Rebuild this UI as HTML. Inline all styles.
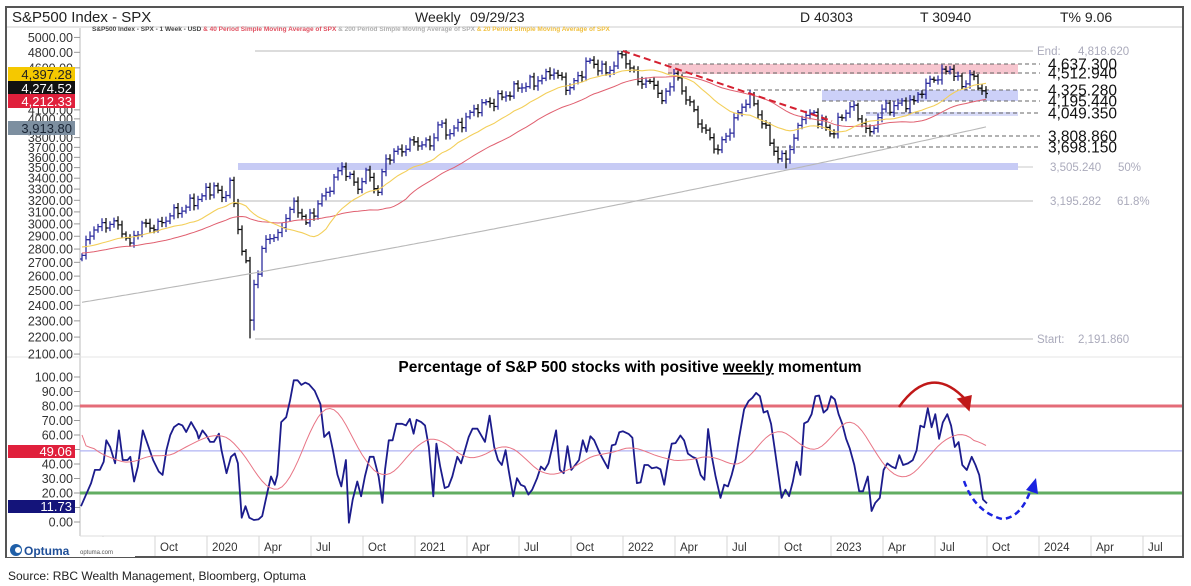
<!DOCTYPE html>
<html><head><meta charset="utf-8">
<style>
html,body{margin:0;padding:0;background:#fff;}
svg{display:block;font-family:"Liberation Sans",Arial,sans-serif;}
</style></head>
<body>
<svg id="c" width="1191" height="586" viewBox="0 0 1191 586" xmlns="http://www.w3.org/2000/svg"></svg>
<script>
(function(){
var W=[];function a(s){W.push(s);}
function Y(v){return 51+365*(8.480-Math.log(v));}
function YM(v){return 522-1.45*v;}
var start=Date.UTC(2019,4,31);
function wi(s){return Math.round((Date.parse(s+"T00:00:00Z")-start)/604800000);}
function X(i){return 82+4*i;}
var N=227;
a('<rect x="6" y="7" width="1177" height="550" fill="#fff" stroke="#555" stroke-width="2"/>');
a('<line x1="7" y1="27" x2="1182" y2="27" stroke="#ccc"/>');
a('<text x="12" y="22" font-size="15" fill="#222">S&amp;P500 Index - SPX</text>');
a('<text x="415" y="22" font-size="14" fill="#222">Weekly</text>');
a('<text x="470" y="22" font-size="14" fill="#222">09/29/23</text>');
a('<text x="800" y="22" font-size="14" fill="#222">D 40303</text>');
a('<text x="920" y="22" font-size="14" fill="#222">T 30940</text>');
a('<text x="1060" y="22" font-size="14" fill="#222">T% 9.06</text>');
a('<text x="92" y="31" font-size="6.5" font-weight="bold"><tspan fill="#444">S&amp;P500 Index - SPX - 1 Week - USD</tspan><tspan fill="#e05060"> &amp; 40 Period Simple Moving Average of SPX</tspan><tspan fill="#b0b0b0"> &amp; 200 Period Simple Moving Average of SPX</tspan><tspan fill="#f0c040"> &amp; 20 Period Simple Moving Average of SPX</tspan></text>');
a('<line x1="80" y1="28" x2="80" y2="536" stroke="#bbb"/>');
a('<line x1="7" y1="357" x2="1182" y2="357" stroke="#e4e4e4"/>');
var labs=[5200,5000,4800,4600,4100,4000,3800,3700,3600,3500,3400,3300,3200,3100,3000,2900,2800,2700,2600,2500,2400,2300,2200,2100];
labs.forEach(function(v){var y=Y(v);if(y<24)return;a('<text x="73" y="'+(y+4.5)+'" font-size="12.5" text-anchor="end" fill="#333">'+v+'.00</text><line x1="74" y1="'+y+'" x2="80" y2="'+y+'" stroke="#999"/>');});
a('<rect x="668" y="64" width="350" height="10" fill="#f7c6cf"/>');
a('<rect x="822" y="90" width="196" height="11" fill="#ccd0f8"/>');
a('<rect x="866" y="112" width="152" height="4" fill="#d8dbf8"/>');
a('<rect x="238" y="163" width="780" height="7" fill="#c7cbf5"/>');
a('<line x1="255" y1="51" x2="1033" y2="51" stroke="#c8c8c8" stroke-width="1.2"/>');
a('<line x1="238" y1="201" x2="1033" y2="201" stroke="#c8c8c8" stroke-width="1.2"/>');
a('<line x1="255" y1="339" x2="1033" y2="339" stroke="#c8c8c8" stroke-width="1.2"/>');
a('<line x1="1018" y1="167" x2="1033" y2="167" stroke="#c8c8c8"/>');
var dl=[[668,64],[668,73],[747,90],[822,101],[866,113],[848,136],[775,147]];
dl.forEach(function(d){a('<line x1="'+d[0]+'" y1="'+d[1]+'" x2="1040" y2="'+d[1]+'" stroke="#666" stroke-dasharray="4,3"/>');});
var big=[["4,637.300",64],["4,512.940",73],["4,325.280",90],["4,195.440",101],["4,049.350",113],["3,808.860",136],["3,698.150",147]];
big.forEach(function(b){a('<text x="1048" y="'+(b[1]+5.5)+'" font-size="15.5" fill="#111">'+b[0]+'</text>');});
a('<text x="1037" y="55" font-size="11.5" fill="#aab"><tspan>End:</tspan><tspan x="1078">4,818.620</tspan></text>');
a('<text x="1050" y="171" font-size="11.5" fill="#aab">3,505.240<tspan x="1118">50%</tspan></text>');
a('<text x="1050" y="205" font-size="11.5" fill="#aab">3,195.282<tspan x="1117">61.8%</tspan></text>');
a('<text x="1037" y="343" font-size="11.5" fill="#aab">Start:<tspan x="1078">2,191.860</tspan></text>');
var kp=[["2019-05-31",2752],["2019-06-07",2873],["2019-06-21",2950],["2019-07-26",3025],["2019-08-09",2918],["2019-08-23",2847],["2019-09-13",3007],["2019-10-04",2952],["2019-11-01",3066],["2019-11-29",3141],["2019-12-27",3240],["2020-01-17",3330],["2020-01-31",3225],["2020-02-14",3380],["2020-02-28",2954],["2020-03-13",2711],["2020-03-20",2305],["2020-03-27",2541],["2020-04-17",2875],["2020-05-08",2930],["2020-06-05",3193],["2020-06-26",3009],["2020-07-31",3271],["2020-08-28",3508],["2020-09-25",3298],["2020-10-09",3477],["2020-10-30",3270],["2020-11-13",3585],["2020-12-31",3756],["2021-01-29",3714],["2021-02-12",3934],["2021-03-05",3842],["2021-04-30",4181],["2021-05-14",4173],["2021-07-02",4352],["2021-08-27",4509],["2021-09-03",4535],["2021-10-01",4357],["2021-11-05",4697],["2021-12-03",4538],["2021-12-31",4766],["2022-01-28",4431],["2022-02-25",4385],["2022-03-11",4204],["2022-03-31",4530],["2022-05-20",3901],["2022-06-17",3675],["2022-07-29",4130],["2022-08-12",4280],["2022-09-30",3586],["2022-10-14",3583],["2022-11-11",3993],["2022-12-02",4071],["2022-12-30",3840],["2023-02-03",4136],["2023-03-10",3862],["2023-03-31",4109],["2023-05-26",4205],["2023-06-16",4410],["2023-07-28",4582],["2023-08-18",4370],["2023-09-01",4515],["2023-09-22",4320],["2023-09-29",4288]];
var K=kp.map(function(k){return [wi(k[0]),Math.log(k[1])];});
var C=[];
for(var i=0;i<N;i++){var j=0;while(j<K.length-2&&K[j+1][0]<i)j++;var p=K[j],q=K[j+1];var t=q[0]==p[0]?0:(i-p[0])/(q[0]-p[0]);t=Math.max(0,Math.min(1,t));var lv=p[1]+(q[1]-p[1])*t;var isK=K.some(function(k){return k[0]==i;});if(!isK)lv+=0.011*Math.sin(i*1.7)+0.007*Math.sin(i*3.1);C.push(Math.exp(lv));}
var crash=wi("2020-03-20");
for(var i=0;i<N;i++){var o=i?C[i-1]:C[0]*0.99,c=C[i];var r=0.006+0.007*Math.abs(Math.sin(i*2.3));var h=Math.max(o,c)*(1+r),l=Math.min(o,c)*(1-r);if(i==crash)l=2192;if(i==crash+1)l=2240;if(i==wi("2021-12-31"))h=4818;if(i==wi("2022-10-14"))l=3492;var col=c>=o?"#2e2e9e":"#111";var x=X(i);a('<path d="M'+x+' '+Y(h).toFixed(1)+'V'+Y(l).toFixed(1)+'M'+(x-2)+' '+Y(o).toFixed(1)+'H'+x+'M'+x+' '+Y(c).toFixed(1)+'H'+(x+2)+'" stroke="'+col+'" stroke-width="1.3" fill="none"/>');}
function sma(n,pad){var s=[];for(var i=0;i<N;i++){var t=0;for(var k=i-n+1;k<=i;k++)t+=k<0?pad:C[k];s.push(t/n);}return s;}
var m20=sma(20,2820),m40=sma(40,2770);
function pl(arr,f,col,w){var d=arr.map(function(v,i){return (i?'L':'M')+X(i)+' '+f(v).toFixed(1);}).join('');a('<path d="'+d+'" stroke="'+col+'" stroke-width="'+w+'" fill="none"/>');}
var m200=[];for(var i=0;i<N;i++){var t=i/(N-1);m200.push(Math.exp(Math.log(2420)+(Math.log(3913)-Math.log(2420))*(t*0.85+0.15*t*t)));}
pl(m200,Y,"#b8b8b8",1.1);
pl(m40,Y,"#e06070",1);
pl(m20,Y,"#f3cf5a",1.1);
a('<line x1="623" y1="51" x2="832" y2="121" stroke="#d42030" stroke-width="2" stroke-dasharray="7,4"/>');
function box(y,bg,fg,txt){a('<rect x="8" y="'+(y-7)+'" width="67" height="14" fill="'+bg+'"/><text x="72" y="'+(y+5)+'" font-size="13" text-anchor="end" fill="'+fg+'">'+txt+'</text>');}
box(74,"#f5c800","#222","4,397.28");
box(88,"#111","#fff","4,274.52");
box(101,"#e0203c","#fff","4,212.33");
box(128,"#7d8fa0","#1a2535","3,913.80");
a('<text x="630" y="372" font-size="15.5" font-weight="bold" text-anchor="middle" fill="#000">Percentage of S&amp;P 500 stocks with positive <tspan text-decoration="underline">weekly</tspan> momentum</text>');
for(var v=100;v>=0;v-=10){var y=YM(v);a('<text x="73" y="'+(y+4.5)+'" font-size="12.5" text-anchor="end" fill="#333">'+v+'.00</text><line x1="74" y1="'+y+'" x2="80" y2="'+y+'" stroke="#999"/>');}
a('<line x1="80" y1="'+YM(80)+'" x2="1182" y2="'+YM(80)+'" stroke="#e46c78" stroke-width="3"/>');
a('<line x1="80" y1="'+YM(20)+'" x2="1182" y2="'+YM(20)+'" stroke="#62ad62" stroke-width="3"/>');
a('<line x1="80" y1="'+YM(49.06)+'" x2="1182" y2="'+YM(49.06)+'" stroke="#b0b4f4" stroke-width="1.3"/>');
var z3=[[215,440],[222,370],[232,330],[245,330],[255,305],[262,240],[272,260],[285,310],[295,210],[305,300],[318,300],[325,290],[335,365],[345,320],[358,210],[370,250],[385,300],[400,335],[410,345],[420,270],[430,225],[440,200],[452,190],[462,195],[472,215],[485,185],[500,215],[505,235],[515,210],[525,225],[535,245],[545,245],[558,220],[565,270],[578,340],[590,290],[600,280],[608,310],[618,475],[628,440],[638,475],[650,482],[662,480],[672,470],[685,400],[695,350],[705,375],[712,345],[722,185],[735,170],[745,120],[755,58],[765,58],[775,72],[785,65],[795,70],[810,90],[825,130],[835,230],[848,215],[858,270],[870,345],[880,380],[892,300],[900,490],[910,420],[922,365],[932,410],[942,350],[955,290],[965,290],[978,350],[988,430],[995,330],[1005,240],[1015,240],[1025,190],[1040,190],[1050,195],[1060,175],[1070,220],[1078,178],[1090,185],[1100,195],[1110,260],[1122,410],[1130,250],[1140,320],[1152,385],[1162,380],[1172,350],[1185,290],[1195,310],[1205,270],[1215,230],[1225,205],[1238,205],[1248,225],[1258,245],[1270,165],[1282,260],[1292,300],[1302,315],[1312,270],[1320,330],[1332,410],[1342,355],[1352,375],[1362,380],[1372,405],[1382,390],[1395,355],[1405,320],[1415,330],[1425,310],[1435,260],[1445,210],[1455,330],[1465,340],[1475,258],[1485,330],[1495,315],[1505,300],[1515,240],[1525,275],[1535,228],[1545,240],[1560,280]];
var z4=[[15,355],[25,285],[35,282],[45,245],[55,242],[70,250],[80,262],[92,400],[102,398],[112,345],[122,345],[132,355],[145,352],[155,358],[165,405],[175,335],[185,280],[195,278],[208,255],[218,270],[228,310],[240,320],[250,325],[262,375],[272,390],[282,235],[292,320],[302,380],[315,445],[325,405],[335,410],[345,375],[355,330],[365,260],[378,175],[390,150],[400,140],[410,125],[420,135],[430,185],[440,180],[450,220],[460,300],[470,380],[478,445],[488,420],[498,440],[508,395],[518,335],[528,375],[538,218],[548,212],[558,190],[568,135],[578,133],[590,185],[600,175],[610,135],[620,145],[630,190],[640,220],[650,265],[660,295],[672,345],[685,425],[695,425],[708,380],[718,485],[728,460],[740,445],[750,360],[760,340],[772,350],[782,355],[792,315],[802,345],[815,340],[828,330],[838,300],[848,225],[858,230],[868,172],[878,230],[888,190],[898,265],[908,215],[920,190],[930,225],[940,290],[950,275],[960,345],[972,360],[985,320],[995,345],[1005,375],[1015,450],[1025,462]];
var P=[];
z3.forEach(function(p){P.push([155+(p[0]-390)/2.63,(488-p[1])/4.4]);});
z4.forEach(function(p){P.push([623+(p[0]-55)/2.667,80-(p[1]-165)/4.42]);});
P[0][0]=81;P[P.length-1][0]=987;
a('<path d="'+P.map(function(p,i){return (i?'L':'M')+p[0].toFixed(1)+' '+YM(p[1]).toFixed(1);}).join('')+'" stroke="#1c1c8c" stroke-width="1.8" fill="none" stroke-linejoin="round"/>');
function at(x){for(var k=1;k<P.length;k++){if(P[k][0]>=x){var p=P[k-1],q=P[k];return p[1]+(q[1]-p[1])*(x-p[0])/(q[0]-p[0]||1);}}return P[P.length-1][1];}
var S=[];for(var i=0;i<N;i++)S.push(at(X(i)));
var M=[];for(var i=0;i<N;i++){var t=0,n=13;for(var k=i-n+1;k<=i;k++)t+=k<0?62:S[k];M.push(t/n);}
var M2=[];for(var i=0;i<N;i++){var t=0,c=0;for(var k=i-3;k<=i+3;k++){if(k>=0&&k<N){t+=M[k];c++;}}M2.push(t/c);}
M2[0]=60;
pl(M2,YM,"#e87585",1);
a('<path d="M899 407 Q931 362 966 400" stroke="#c01818" stroke-width="2.5" fill="none"/><path d="M958 399 L969 410 L971 396 Z" fill="#c01818" stroke="#c01818" stroke-width="1.5"/>');
a('<path d="M964 481 Q975 512 1002 519 Q1022 518 1032 486" stroke="#1a22e0" stroke-width="2.5" fill="none" stroke-dasharray="6,4"/><path d="M1026 490 L1036 478 L1038 494 Z" fill="#1a22e0"/>');
a('<rect x="8" y="445" width="67" height="13" fill="#e0203c"/><text x="72" y="456" font-size="13" text-anchor="end" fill="#fff">49.06</text>');
a('<rect x="8" y="500" width="67" height="13" fill="#14147a"/><text x="72" y="511" font-size="13" text-anchor="end" fill="#fff">11.73</text>');
a('<rect x="80" y="536" width="1102" height="20" fill="#fff"/><line x1="80" y1="536" x2="1182" y2="536" stroke="#ddd"/>');
var ql=["Jul","Oct","2020","Apr","Jul","Oct","2021","Apr","Jul","Oct","2022","Apr","Jul","Oct","2023","Apr","Jul","Oct","2024","Apr","Jul"];
ql.forEach(function(l,k){var x=103+52*k;a('<line x1="'+x+'" y1="536" x2="'+x+'" y2="556" stroke="#d6d6d6"/>');if(k>0)a('<text x="'+(x+5)+'" y="551" font-size="11.5" fill="#333">'+l+'</text>');});
a('<text x="103" y="545" font-size="9" fill="#888">Jul</text>');
a('<rect x="7" y="537" width="128" height="20" fill="#fff"/>');
a('<circle cx="16" cy="550" r="6" fill="#1f5fa8"/><circle cx="18" cy="550" r="3" fill="#fff"/>');
a('<text x="24" y="555" font-size="12" font-weight="bold" fill="#1f4f98">Optuma</text><text x="80" y="554" font-size="6" fill="#555">optuma.com</text>');
a('<text x="8" y="580" font-size="12" fill="#222">Source: RBC Wealth Management, Bloomberg, Optuma</text>');
document.getElementById('c').innerHTML=W.join('');
})();
</script>
</body></html>
